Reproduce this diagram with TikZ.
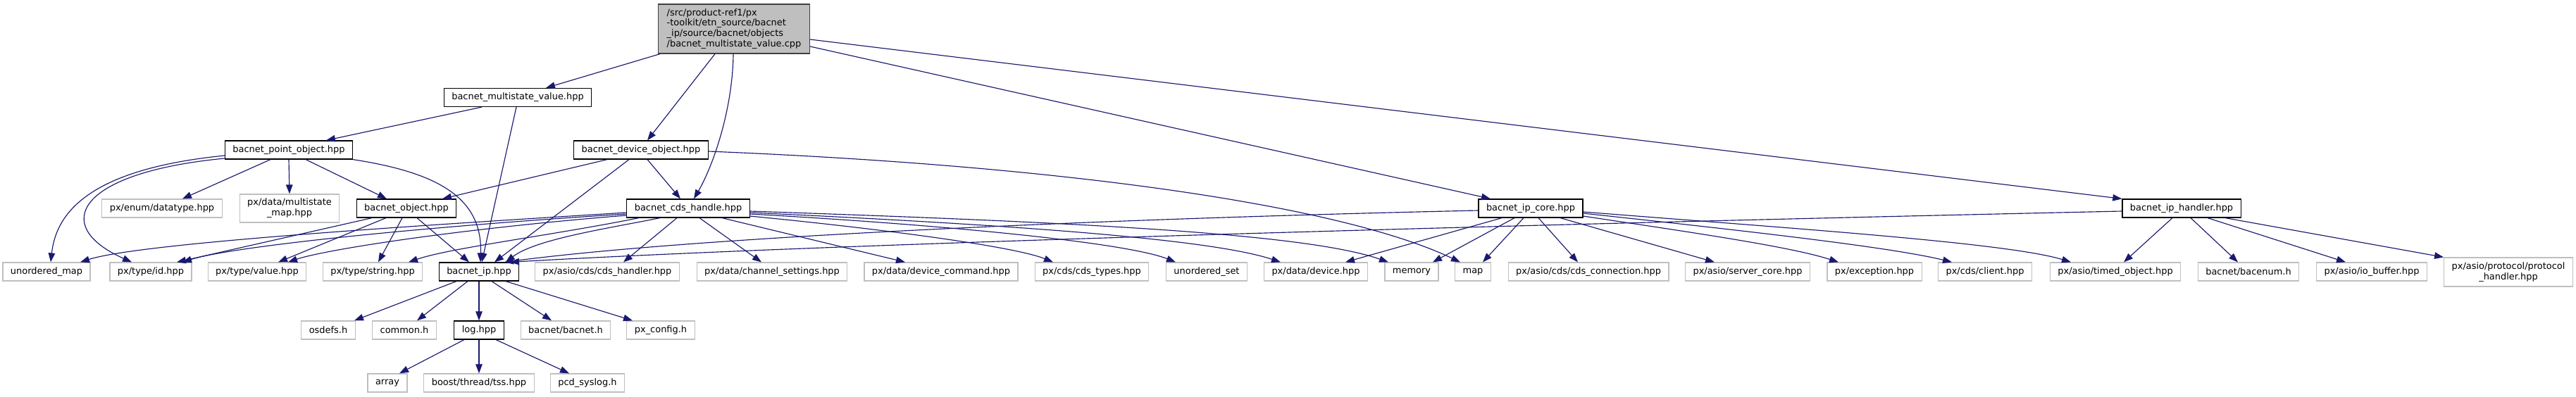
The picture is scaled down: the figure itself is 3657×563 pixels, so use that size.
\documentclass[tikz,border=0pt]{standalone}
\usepackage{fontspec}
\setmainfont{DejaVu Sans}
\usetikzlibrary{arrows.meta}
\definecolor{edgec}{HTML}{191970}
\definecolor{grayb}{HTML}{BFBFBF}
\begin{document}
\begin{tikzpicture}[x=1pt,y=-1pt,
  box/.style={draw=black, line width=1.2pt, fill=white, inner xsep=11pt, inner ysep=0pt,
    minimum height=26pt, font=\fontsize{12.94}{14.8}\selectfont},
  ext/.style={box, draw=grayb},
  e/.style={draw=edgec, line width=1.15pt, -{Triangle[length=13pt,width=9.5pt]}}]
\useasboundingbox (0,0) rectangle (3657,563);
% row 1
\node[box, fill=grayb, draw=black!75, align=left, minimum height=70pt, minimum width=215pt] (root) at (1042,41)
 {/src/product-ref1/px\\-toolkit/etn\_source/bacnet\\\_ip/source/bacnet/objects\\/bacnet\_multistate\_value.cpp};
% row 2
\node[box] (mval) at (735,138.5) {bacnet\_multistate\_value.hpp};
% row 3
\node[box] (pobj) at (410,213) {bacnet\_point\_object.hpp};
\node[box] (dobj) at (910,213) {bacnet\_device\_object.hpp};
% row 4
\node[ext] (datatype) at (230,296) {px/enum/datatype.hpp};
\node[ext, align=center, minimum height=40pt] (msmap) at (411,296) {px/data/multistate\\\_map.hpp};
\node[box] (bobj) at (577,296) {bacnet\_object.hpp};
\node[box] (cds) at (977,296) {bacnet\_cds\_handle.hpp};
\node[box] (ipcore) at (2173,296) {bacnet\_ip\_core.hpp};
\node[box] (iphandler) at (3097,296) {bacnet\_ip\_handler.hpp};
% row 5
\node[ext] (umap) at (66,386) {unordered\_map};
\node[ext] (id) at (214,386) {px/type/id.hpp};
\node[ext] (value) at (365,386) {px/type/value.hpp};
\node[ext] (string) at (529,386) {px/type/string.hpp};
\node[box] (bip) at (680,386) {bacnet\_ip.hpp};
\node[ext] (cdsh) at (862,386) {px/asio/cds/cds\_handler.hpp};
\node[ext] (chset) at (1096,386) {px/data/channel\_settings.hpp};
\node[ext] (devcmd) at (1336,386) {px/data/device\_command.hpp};
\node[ext] (cdstypes) at (1550,386) {px/cds/cds\_types.hpp};
\node[ext] (uset) at (1713,386) {unordered\_set};
\node[ext] (device) at (1868,386) {px/data/device.hpp};
\node[ext] (memory) at (2004,386) {memory};
\node[ext] (map) at (2091,386) {map};
\node[ext] (cdsconn) at (2255,386) {px/asio/cds/cds\_connection.hpp};
\node[ext] (servercore) at (2481,386) {px/asio/server\_core.hpp};
\node[ext] (exception) at (2661,386) {px/exception.hpp};
\node[ext] (client) at (2818,386) {px/cds/client.hpp};
\node[ext] (timed) at (3003,386) {px/asio/timed\_object.hpp};
\node[ext] (bacenum) at (3192,386) {bacnet/bacenum.h};
\node[ext] (iobuf) at (3367,386) {px/asio/io\_buffer.hpp};
\node[ext, align=center, minimum height=41pt] (proto) at (3561,386.5) {px/asio/protocol/protocol\\\_handler.hpp};
% row 6
\node[ext] (osdefs) at (466,469) {osdefs.h};
\node[ext] (common) at (574,469) {common.h};
\node[box] (log) at (680,469) {log.hpp};
\node[ext] (bacneth) at (803,469) {bacnet/bacnet.h};
\node[ext] (pxconfig) at (938,469) {px\_config.h};
% row 7
\node[ext] (array) at (550,544) {array};
\node[ext] (tss) at (680,544) {boost/thread/tss.hpp};
\node[ext] (syslog) at (834,544) {pcd\_syslog.h};

% root edges
\draw[e] (root.south -| 937,0) -- (mval.north -| 775,0);
\draw[e] (root.south -| 1015,0) -- (dobj.north -| 919,0);
\draw[e] (root.south -| 1041,0) .. controls (1040,160) and (1010,240) .. (cds.north -| 985,0);
\draw[e] (root.east |- 0,66) -- (ipcore.north -| 2116,0);
\draw[e] (root.east |- 0,56) -- (iphandler.north west);
% mval
\draw[e] (mval.south -| 684,0) -- (pobj.north -| 463,0);
\draw[e] (mval.south -| 733,0) -- (bip.north -| 684,0);
% pobj
\draw[e] (pobj.west |- 0,221) .. controls (130,240) and (80,300) .. (umap.north -| 72,0);
\draw[e] (pobj.west |- 0,225) .. controls (110,245) and (70,320) .. (id.north -| 187,0);
\draw[e] (pobj.south -| 384,0) -- (datatype.north -| 259,0);
\draw[e] (pobj.south) -- (msmap.north);
\draw[e] (pobj.south -| 434,0) -- (bobj.north -| 549,0);
\draw[e] (pobj.south east) .. controls (620,245) and (685,280) .. (bip.north -| 682,0);
% dobj
\draw[e] (dobj.south -| 862,0) -- (bobj.north -| 628,0);
\draw[e] (dobj.south -| 893,0) -- (bip.north -| 702,0);
\draw[e] (dobj.south -| 919,0) -- (cds.north -| 966,0);
\draw[e] (dobj.east |- 0,215) .. controls (1500,235) and (1900,290) .. (map.north -| 2073,0);
% bobj
\draw[e] (bobj.south -| 528,0) -- (id.north -| 251,0);
\draw[e] (bobj.south -| 548,0) -- (value.north -| 395,0);
\draw[e] (bobj.south -| 571,0) -- (string.north -| 537,0);
\draw[e] (bobj.south -| 592,0) -- (bip.north -| 666,0);
% cds
\draw[e] (cds.west |- 0,302) .. controls (600,320) and (200,345) .. (umap.north -| 114,0);
\draw[e] (cds.west |- 0,304) .. controls (600,322) and (330,350) .. (id.north -| 259,0);
\draw[e] (cds.west |- 0,306) .. controls (650,325) and (460,355) .. (value.north -| 409,0);
\draw[e] (cds.south -| 907,0) .. controls (780,335) and (640,352) .. (string.north -| 580,0);
\draw[e] (cds.south -| 937,0) .. controls (860,325) and (760,340) .. (bip.north -| 718,0);
\draw[e] (cds.south -| 961,0) -- (cdsh.north -| 885,0);
\draw[e] (cds.south -| 993,0) -- (chset.north -| 1081,0);
\draw[e] (cds.south -| 1025,0) -- (devcmd.north -| 1285,0);
\draw[e] (cds.east |- 0,307) .. controls (1250,325) and (1440,350) .. (cdstypes.north -| 1495,0);
\draw[e] (cds.east |- 0,304) .. controls (1350,320) and (1600,345) .. (uset.north -| 1669,0);
\draw[e] (cds.east |- 0,302) .. controls (1450,320) and (1720,340) .. (device.north -| 1818,0);
\draw[e] (cds.east |- 0,300) .. controls (1500,315) and (1850,330) .. (memory.north -| 1971,0);
% ipcore
\draw[e] (ipcore.west |- 0,299) .. controls (1600,310) and (1000,335) .. (bip.north -| 716,0);
\draw[e] (ipcore.south -| 2132,0) -- (device.north -| 1910,0);
\draw[e] (ipcore.south -| 2150,0) -- (memory.north -| 2034,0);
\draw[e] (ipcore.south -| 2163,0) -- (map.north -| 2105,0);
\draw[e] (ipcore.south -| 2184,0) -- (cdsconn.north -| 2240,0);
\draw[e] (ipcore.south -| 2215,0) -- (servercore.north -| 2434,0);
\draw[e] (ipcore.east |- 0,307) .. controls (2400,330) and (2540,350) .. (exception.north -| 2610,0);
\draw[e] (ipcore.east |- 0,303) .. controls (2450,325) and (2680,350) .. (client.north -| 2771,0);
\draw[e] (ipcore.east |- 0,301) .. controls (2550,325) and (2850,345) .. (timed.north -| 2940,0);
% iphandler
\draw[e] (iphandler.west |- 0,300) .. controls (2200,318) and (1200,345) .. (bip.north -| 724,0);
\draw[e] (iphandler.south -| 3084,0) -- (timed.north -| 3015,0);
\draw[e] (iphandler.south -| 3110,0) -- (bacenum.north -| 3177,0);
\draw[e] (iphandler.south -| 3134,0) -- (iobuf.north -| 3330,0);
\draw[e] (iphandler.south -| 3159,0) -- (proto.north west);
% bip
\draw[e] (bip.south -| 648,0) -- (osdefs.north -| 503,0);
\draw[e] (bip.south -| 664,0) -- (common.north -| 592,0);
\draw[e] (bip.south) -- (log.north);
\draw[e] (bip.south -| 698,0) -- (bacneth.north -| 783,0);
\draw[e] (bip.south -| 718,0) -- (pxconfig.north -| 898,0);
% log
\draw[e] (log.south -| 659,0) -- (array.north -| 567,0);
\draw[e] (log.south) -- (tss.north);
\draw[e] (log.south -| 704,0) -- (syslog.north -| 808,0);
\end{tikzpicture}
\end{document}
